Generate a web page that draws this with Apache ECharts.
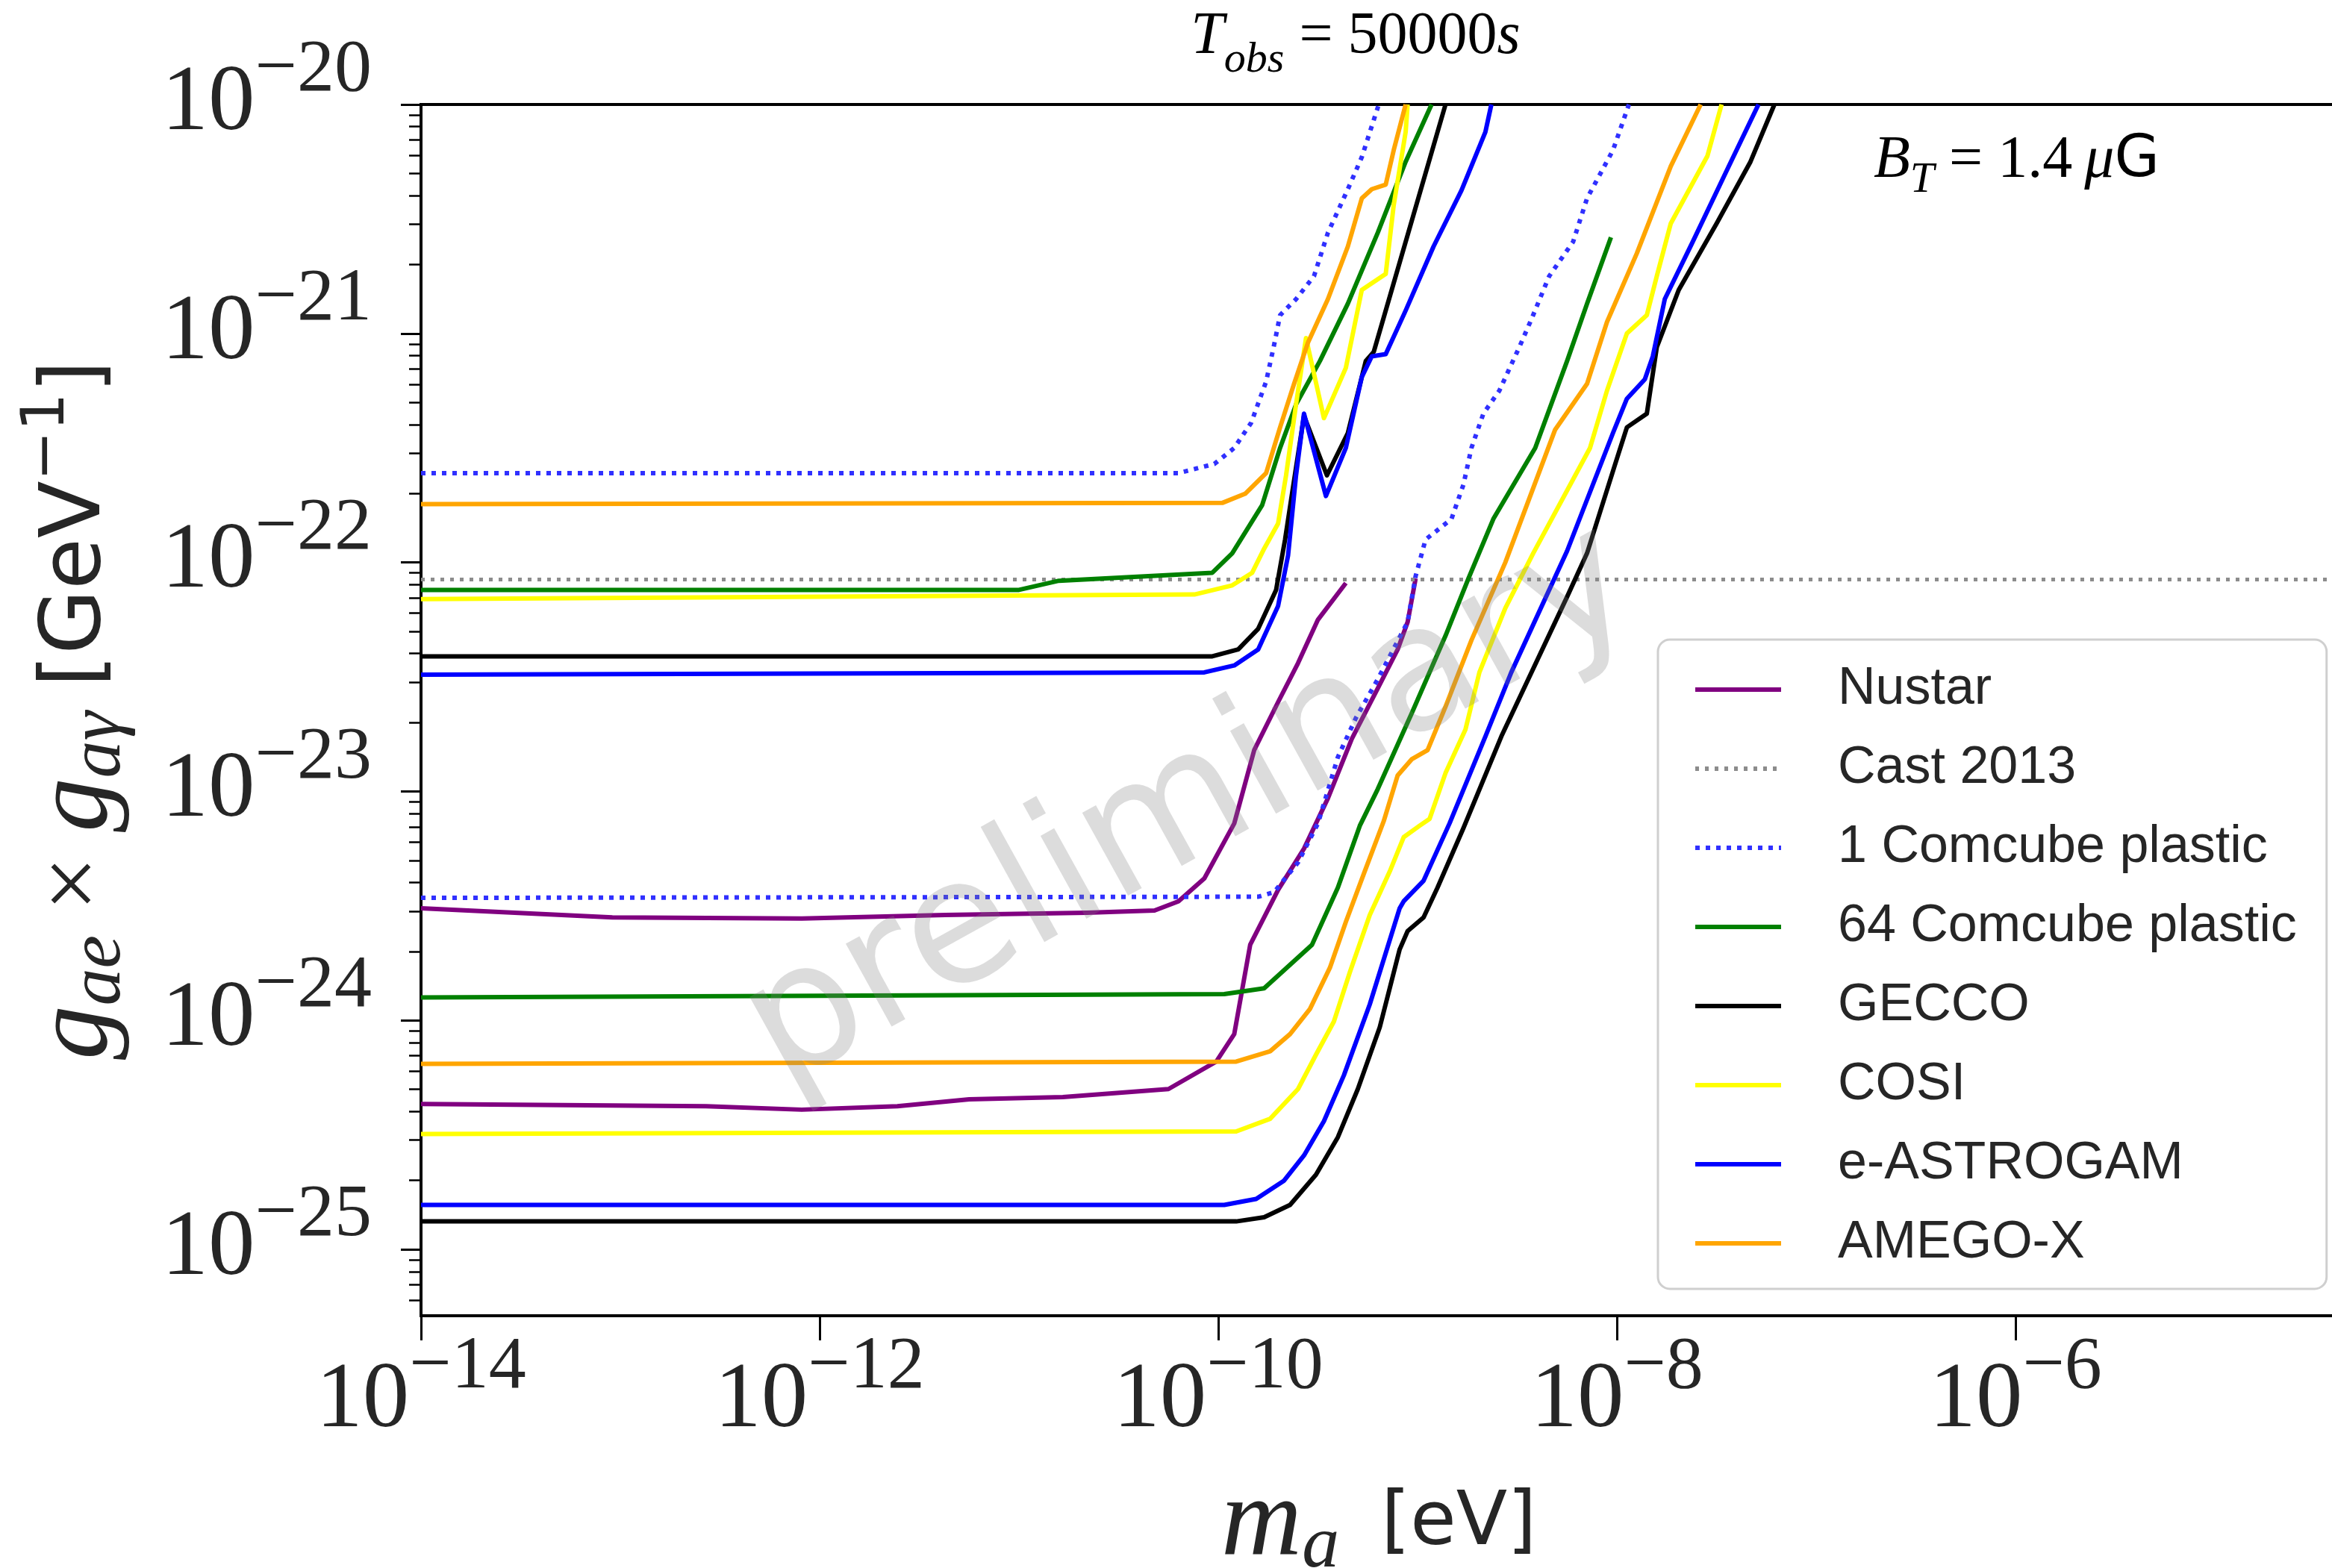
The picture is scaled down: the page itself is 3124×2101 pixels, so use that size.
<!DOCTYPE html>
<html>
<head>
<meta charset="utf-8">
<script src="https://cdn.jsdelivr.net/npm/echarts@6/dist/echarts.min.js"></script>
<style>
  html, body { margin: 0; padding: 0; background: #ffffff; }
  #chart { width: 3124px; height: 2101px; }
</style>
</head>
<body>
<div id="chart"></div>
<script>
// Sensitivity curves, each point is [log10(m_a / eV), log10(g_ae * g_aγ / GeV^-1)].
// Every instrument has two branches: a high plateau branch and a low plateau branch.

const massTicks = [-14, -12, -10, -8, -6];
const couplingTicks = [-25, -24, -23, -22, -21, -20];

const nustarHigh = [[-14.00, -23.51], [-13.04, -23.55], [-12.09, -23.555], [-11.37, -23.54], [-10.66, -23.53],
  [-10.32, -23.52], [-10.20, -23.48], [-10.07, -23.38], [-9.92, -23.14], [-9.82, -22.82], [-9.70, -22.61],
  [-9.60, -22.44], [-9.50, -22.25], [-9.36, -22.09]];
const nustarLow = [[-14.00, -24.365], [-12.57, -24.375], [-12.09, -24.39], [-11.61, -24.375], [-11.25, -24.345],
  [-10.78, -24.335], [-10.25, -24.30], [-10.01, -24.18], [-9.92, -24.06], [-9.84, -23.67], [-9.70, -23.43],
  [-9.57, -23.25], [-9.45, -23.03], [-9.33, -22.77], [-9.20, -22.55], [-9.10, -22.38], [-9.05, -22.26], [-9.01, -22.07]];

const cast2013 = [[-14.00, -22.075], [-4.39, -22.075]];

const comcube1High = [[-14.00, -21.61], [-10.20, -21.61], [-10.02, -21.57], [-9.92, -21.50], [-9.835, -21.39],
  [-9.76, -21.21], [-9.72, -21.05], [-9.69, -20.92], [-9.61, -20.85], [-9.52, -20.75], [-9.45, -20.56],
  [-9.35, -20.37], [-9.28, -20.23], [-9.195, -20.00]];
const comcube1Low = [[-14.00, -23.465], [-9.80, -23.46], [-9.72, -23.44], [-9.60, -23.31], [-9.50, -23.14],
  [-9.40, -22.85], [-9.31, -22.68], [-9.20, -22.51], [-9.05, -22.26], [-9.01, -22.06], [-8.96, -21.90],
  [-8.83, -21.81], [-8.77, -21.66], [-8.73, -21.50], [-8.67, -21.35], [-8.59, -21.25], [-8.49, -21.06],
  [-8.43, -20.94], [-8.34, -20.75], [-8.22, -20.60], [-8.15, -20.41], [-8.02, -20.20], [-7.94, -20.00]];

const comcube64High = [[-14.00, -22.12], [-11.00, -22.12], [-10.80, -22.08], [-10.03, -22.045], [-9.93, -21.96],
  [-9.78, -21.75], [-9.69, -21.50], [-9.61, -21.31], [-9.49, -21.12], [-9.35, -20.87], [-9.20, -20.56],
  [-9.06, -20.25], [-8.93, -20.00]];
const comcube64Low = [[-14.00, -23.90], [-9.97, -23.885], [-9.77, -23.86], [-9.53, -23.67], [-9.40, -23.42],
  [-9.29, -23.15], [-9.20, -22.99], [-9.03, -22.66], [-8.86, -22.32], [-8.745, -22.07], [-8.62, -21.81],
  [-8.41, -21.50], [-8.25, -21.12], [-8.15, -20.87], [-8.03, -20.58]];

const geccoHigh = [[-14.00, -22.41], [-10.03, -22.41], [-9.90, -22.38], [-9.80, -22.29], [-9.71, -22.12],
  [-9.665, -21.90], [-9.63, -21.70], [-9.57, -21.36], [-9.455, -21.62], [-9.35, -21.435], [-9.26, -21.12],
  [-9.22, -21.08], [-9.04, -20.54], [-8.86, -20.00]];
const geccoLow = [[-14.00, -24.878], [-9.91, -24.878], [-9.77, -24.86], [-9.64, -24.806], [-9.51, -24.674],
  [-9.40, -24.51], [-9.30, -24.30], [-9.19, -24.03], [-9.09, -23.69], [-9.05, -23.61], [-8.97, -23.55],
  [-8.90, -23.42], [-8.77, -23.16], [-8.58, -22.76], [-8.25, -22.15], [-8.15, -21.96], [-8.005, -21.56],
  [-7.95, -21.41], [-7.85, -21.35], [-7.80, -21.06], [-7.69, -20.81], [-7.50, -20.52], [-7.33, -20.25], [-7.21, -20.00]];

const cosiHigh = [[-14.00, -22.16], [-10.12, -22.14], [-9.93, -22.10], [-9.83, -22.045], [-9.77, -21.94],
  [-9.70, -21.83], [-9.66, -21.62], [-9.61, -21.31], [-9.56, -21.02], [-9.47, -21.37], [-9.36, -21.15],
  [-9.28, -20.81], [-9.16, -20.74], [-9.12, -20.44], [-9.06, -20.12], [-9.05, -20.00]];
const cosiLow = [[-14.00, -24.496], [-9.91, -24.485], [-9.74, -24.43], [-9.60, -24.30], [-9.51, -24.15],
  [-9.42, -24.005], [-9.34, -23.79], [-9.24, -23.54], [-9.14, -23.35], [-9.07, -23.20], [-8.99, -23.15],
  [-8.94, -23.12], [-8.86, -22.92], [-8.76, -22.73], [-8.69, -22.48], [-8.56, -22.20], [-8.42, -21.96],
  [-8.135, -21.50], [-8.05, -21.25], [-7.95, -21.00], [-7.85, -20.92], [-7.80, -20.75], [-7.73, -20.52],
  [-7.546, -20.225], [-7.475, -20.00]];

const astrogamHigh = [[-14.00, -22.49], [-10.07, -22.48], [-9.92, -22.45], [-9.80, -22.38], [-9.70, -22.19],
  [-9.65, -21.97], [-9.61, -21.62], [-9.57, -21.35], [-9.46, -21.71], [-9.36, -21.50], [-9.28, -21.19],
  [-9.23, -21.10], [-9.16, -21.09], [-9.06, -20.90], [-8.92, -20.62], [-8.78, -20.375], [-8.66, -20.12], [-8.63, -20.00]];
const astrogamLow = [[-14.00, -24.806], [-9.97, -24.806], [-9.81, -24.78], [-9.67, -24.70], [-9.57, -24.59],
  [-9.47, -24.44], [-9.37, -24.24], [-9.24, -23.93], [-9.09, -23.51], [-9.07, -23.48], [-8.97, -23.39],
  [-8.84, -23.14], [-8.66, -22.76], [-8.53, -22.48], [-8.25, -21.95], [-8.02, -21.435], [-7.95, -21.285],
  [-7.86, -21.20], [-7.82, -21.10], [-7.76, -20.85], [-7.62, -20.60], [-7.45, -20.29], [-7.29, -20.00]];

const amegoHigh = [[-14.00, -21.745], [-9.98, -21.74], [-9.865, -21.70], [-9.76, -21.61], [-9.69, -21.41],
  [-9.62, -21.22], [-9.55, -21.04], [-9.45, -20.85], [-9.35, -20.62], [-9.28, -20.41], [-9.23, -20.37],
  [-9.16, -20.35], [-9.12, -20.20], [-9.06, -20.00]];
const amegoLow = [[-14.00, -24.19], [-9.91, -24.18], [-9.74, -24.135], [-9.64, -24.06], [-9.54, -23.95],
  [-9.44, -23.77], [-9.36, -23.57], [-9.27, -23.36], [-9.17, -23.13], [-9.10, -22.93], [-9.03, -22.86],
  [-8.95, -22.82], [-8.86, -22.63], [-8.73, -22.34], [-8.56, -22.00], [-8.31, -21.42], [-8.15, -21.22],
  [-8.05, -20.95], [-7.90, -20.65], [-7.73, -20.27], [-7.58, -20.00]];

const instrumentNames = ['Nustar', 'Cast 2013', '1 Comcube plastic', '64 Comcube plastic', 'GECCO', 'COSI', 'e-ASTROGAM', 'AMEGO-X'];
const instrumentCurves = {
  'Nustar': [nustarHigh, nustarLow],
  'Cast 2013': [cast2013],
  '1 Comcube plastic': [comcube1High, comcube1Low],
  '64 Comcube plastic': [comcube64High, comcube64Low],
  'GECCO': [geccoHigh, geccoLow],
  'COSI': [cosiHigh, cosiLow],
  'e-ASTROGAM': [astrogamHigh, astrogamLow],
  'AMEGO-X': [amegoHigh, amegoLow]
};

// Line appearance per instrument
const lineLook = {
  'Nustar': { color: '#800080', type: 'solid', width: 6 },
  'Cast 2013': { color: '#8c8c8c', type: [5, 8], width: 5 },
  '1 Comcube plastic': { color: '#3030ff', type: [6, 8], width: 6 },
  '64 Comcube plastic': { color: '#008000', type: 'solid', width: 6 },
  'GECCO': { color: '#000000', type: 'solid', width: 6 },
  'COSI': { color: '#ffff00', type: 'solid', width: 6 },
  'e-ASTROGAM': { color: '#0000ff', type: 'solid', width: 6 },
  'AMEGO-X': { color: '#ffa500', type: 'solid', width: 6 }
};

const X_MIN = -14, X_MAX = -4.39;
const Y_MIN = -25.29, Y_MAX = -20;

// log-decade minor tick positions (2..9 x 10^n)
const minorTicks = [];
for (let n = -26; n <= -21; n++) {
  for (let k = 2; k <= 9; k++) {
    const v = n + Math.log10(k);
    if (v > Y_MIN && v < Y_MAX) minorTicks.push(v);
  }
}

const series = [];
instrumentNames.forEach(name => {
  const look = lineLook[name];
  instrumentCurves[name].forEach(part => {
    series.push({
      type: 'line',
      name: name,
      data: part,
      showSymbol: false,
      symbol: 'none',
      clip: true,
      xAxisIndex: 0,
      yAxisIndex: 0,
      itemStyle: { color: look.color },
      lineStyle: { color: look.color, width: look.width, type: look.type, join: 'round', cap: 'butt' },
      emphasis: { disabled: true },
      animation: false
    });
  });
});

const tickRich = {
  b: { fontFamily: 'Liberation Serif', fontSize: 125, lineHeight: 190, verticalAlign: 'middle', color: '#262626' },
  s: { fontFamily: 'Liberation Serif', fontSize: 100, lineHeight: 102, verticalAlign: 'top', color: '#262626' }
};
const powerLabel = v => '{b|10}{s|' + (v < 0 ? '\u2212' : '') + Math.abs(Math.round(v)) + '}';

const chart = echarts.init(document.getElementById('chart'), null, { renderer: 'canvas', width: 3124, height: 2101 });

chart.setOption({
  backgroundColor: '#ffffff',
  animation: false,
  grid: {
    left: 564, top: 140, right: -6, bottom: 338,
    outerBoundsMode: 'none',
    containLabel: false,
    show: true, borderColor: '#000000', borderWidth: 4, backgroundColor: 'transparent'
  },
  xAxis: [{
    type: 'value', min: X_MIN, max: X_MAX,
    axisLine: { show: false, onZero: false },
    splitLine: { show: false },
    axisTick: { show: true, customValues: massTicks, length: 33, lineStyle: { color: '#000', width: 3 } },
    axisLabel: { show: true, customValues: massTicks, margin: 20, formatter: powerLabel, rich: tickRich },
    name: '{mi|m}{ms|a}{sp| }{sf|[eV]}',
    nameLocation: 'middle',
    nameGap: 200,
    nameTextStyle: {
      rich: {
        mi: { fontFamily: 'Liberation Serif', fontStyle: 'italic', fontSize: 150, lineHeight: 160, verticalAlign: 'middle', color: '#262626' },
        ms: { fontFamily: 'Liberation Serif', fontStyle: 'italic', fontSize: 100, lineHeight: 84, verticalAlign: 'bottom', color: '#262626' },
        sp: { fontSize: 90, lineHeight: 160, width: 56 },
        sf: { fontFamily: 'DejaVu Sans', fontSize: 100, lineHeight: 160, verticalAlign: 'middle', color: '#262626' }
      }
    }
  }],
  yAxis: [{
    type: 'value', min: Y_MIN, max: Y_MAX,
    axisLine: { show: false, onZero: false },
    splitLine: { show: false },
    axisTick: { show: true, customValues: couplingTicks, length: 27, lineStyle: { color: '#000', width: 3 } },
    axisLabel: { show: true, customValues: couplingTicks, margin: 66, formatter: powerLabel, rich: tickRich },
    name: '{gi|g}{gs|ae}{op| \u00d7 }{gi|g}{gs|a\u03b3}{op| }{sf|[GeV}{su|\u22121}{sf|]}',
    nameLocation: 'middle',
    nameRotate: 90,
    nameGap: 380,
    nameTextStyle: {
      rich: {
        gi: { fontFamily: 'Liberation Serif', fontStyle: 'italic', fontSize: 145, lineHeight: 160, verticalAlign: 'middle', color: '#262626' },
        gs: { fontFamily: 'Liberation Serif', fontStyle: 'italic', fontSize: 100, lineHeight: 84, verticalAlign: 'bottom', color: '#262626' },
        op: { fontFamily: 'Liberation Serif', fontSize: 130, lineHeight: 160, verticalAlign: 'middle', color: '#262626' },
        sf: { fontFamily: 'DejaVu Sans', fontSize: 112, lineHeight: 160, verticalAlign: 'middle', color: '#262626' },
        su: { fontFamily: 'DejaVu Sans', fontSize: 80, lineHeight: 84, verticalAlign: 'top', color: '#262626' }
      }
    }
  }, {
    type: 'value', min: Y_MIN, max: Y_MAX, position: 'left',
    axisLine: { show: false, onZero: false },
    splitLine: { show: false },
    axisLabel: { show: false },
    axisTick: { show: true, customValues: minorTicks, length: 16, lineStyle: { color: '#000', width: 2.5 } }
  }],
  legend: {
    data: instrumentNames,
    orient: 'vertical',
    left: 2221, top: 857,
    padding: [32, 40, 26, 47],
    itemWidth: 115, itemHeight: 40, itemGap: 36,
    backgroundColor: 'rgba(255,255,255,0.85)',
    borderColor: '#cfcfcf', borderWidth: 3, borderRadius: 16,
    selectedMode: false,
    itemStyle: { color: 'rgba(0,0,0,0)', borderWidth: 0, opacity: 0 },
    lineStyle: { width: 6 },
    formatter: name => '{pad| }' + name,
    textStyle: {
      fontFamily: 'Liberation Sans', fontSize: 70, lineHeight: 40, color: '#262626',
      rich: { pad: { width: 71, lineHeight: 40 } }
    }
  },
  graphic: [{
    type: 'text', x: 1816, y: 50, z: 50,
    style: {
      text: '{it|T}{sub|obs}{rm| = 50000}{it|s}',
      align: 'center', textAlign: 'center', verticalAlign: 'middle', textVerticalAlign: 'middle',
      rich: {
        it: { fontFamily: 'Liberation Serif', fontStyle: 'italic', fontSize: 80, lineHeight: 120, verticalAlign: 'middle', fill: '#000' },
        sub: { fontFamily: 'Liberation Serif', fontStyle: 'italic', fontSize: 58, lineHeight: 64, verticalAlign: 'bottom', fill: '#000' },
        rm: { fontFamily: 'Liberation Serif', fontSize: 80, lineHeight: 120, verticalAlign: 'middle', fill: '#000' }
      }
    }
  }, {
    type: 'text', x: 2510, y: 216, z: 50,
    style: {
      text: '{it|B}{sub|T}{rm| = 1.4\u2009}{it|\u03bc}{sf|G}',
      align: 'left', textAlign: 'left', verticalAlign: 'middle', textVerticalAlign: 'middle',
      rich: {
        it: { fontFamily: 'Liberation Serif', fontStyle: 'italic', fontSize: 80, lineHeight: 110, verticalAlign: 'middle', fill: '#000' },
        sub: { fontFamily: 'Liberation Serif', fontStyle: 'italic', fontSize: 58, lineHeight: 62, verticalAlign: 'bottom', fill: '#000' },
        rm: { fontFamily: 'Liberation Serif', fontSize: 80, lineHeight: 110, verticalAlign: 'middle', fill: '#000' },
        sf: { fontFamily: 'DejaVu Sans', fontSize: 78, lineHeight: 110, verticalAlign: 'middle', fill: '#000' }
      }
    }
  }, {
    type: 'text', x: 1596, y: 1084, z: 100,
    rotation: 29 * Math.PI / 180,
    style: {
      text: 'preliminary',
      fontFamily: 'DejaVu Sans', fontSize: 232,
      fill: 'rgba(128,128,128,0.28)',
      align: 'center', textAlign: 'center', verticalAlign: 'middle', textVerticalAlign: 'middle'
    }
  }],
  series: series
});
</script>
</body>
</html>
